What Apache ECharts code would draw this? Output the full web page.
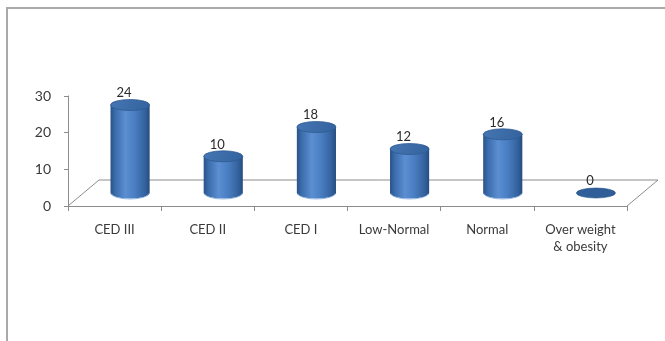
<!DOCTYPE html>
<html>
<head>
<meta charset="utf-8">
<script src="https://cdn.jsdelivr.net/npm/echarts@6/dist/echarts.min.js"></script>
<style>
  html, body { margin: 0; padding: 0; background: #ffffff; }
  #chart { width: 665px; height: 341px; }
</style>
</head>
<body>
<div id="chart"></div>
<script>
// BMI classes and number of subjects in each
const categories = ['CED III', 'CED II', 'CED I', 'Low-Normal', 'Normal', 'Over weight\n& obesity'];
const values = [24, 10, 18, 12, 16, 0];
const valueTicks = [0, 10, 20, 30];

// Pseudo-3D floor depth (pixels) and cylinder proportions
const DEPTH_X = 31;
const DEPTH_Y = -26;
const FONT = 'Lato, "Open Sans", sans-serif';
const AXIS_GREY = '#8c8c8c';

const chart = echarts.init(document.getElementById('chart'), null, { renderer: 'canvas' });

const bodyFill = {
  type: 'linear', x: 0, y: 0, x2: 1, y2: 0,
  colorStops: [
    { offset: 0, color: '#2a5288' },
    { offset: 0.12, color: '#3b6cab' },
    { offset: 0.38, color: '#5b8fd2' },
    { offset: 0.62, color: '#4a7ec2' },
    { offset: 0.88, color: '#34629e' },
    { offset: 1, color: '#264c80' }
  ]
};
const topFill = {
  type: 'linear', x: 0, y: 0, x2: 1, y2: 1,
  colorStops: [
    { offset: 0, color: '#4676b3' },
    { offset: 1, color: '#33629e' }
  ]
};

function ellipsePath(cx, cy, rx, ry) {
  return 'M' + (cx - rx) + ' ' + cy +
    ' A' + rx + ' ' + ry + ' 0 1 0 ' + (cx + rx) + ' ' + cy +
    ' A' + rx + ' ' + ry + ' 0 1 0 ' + (cx - rx) + ' ' + cy + ' Z';
}

function renderFloor(params, api) {
  const cs = params.coordSys;
  const x0 = cs.x, x1 = cs.x + cs.width, y0 = cs.y + cs.height;
  return {
    type: 'polyline',
    shape: {
      points: [
        [x0, y0],
        [x0 + DEPTH_X, y0 + DEPTH_Y],
        [x1 + DEPTH_X, y0 + DEPTH_Y],
        [x1, y0]
      ]
    },
    style: { stroke: AXIS_GREY, lineWidth: 1, fill: null }
  };
}

function renderCylinder(params, api) {
  const idx = api.value(0);
  const v = api.value(1);
  const top = api.coord([idx, v]);
  const base = api.coord([idx, 0]);
  const band = api.size([1, 0])[0];
  const rx = band * 0.21;
  const ry = 5.5;
  const cx = top[0] + DEPTH_X / 2;
  const topY = top[1] + DEPTH_Y / 2;
  const baseY = base[1] + DEPTH_Y / 2;
  const children = [];

  if (baseY - topY > 0.5) {
    children.push({
      type: 'path',
      shape: {
        pathData: 'M' + (cx - rx) + ' ' + topY +
          ' L' + (cx - rx) + ' ' + baseY +
          ' A' + rx + ' ' + ry + ' 0 0 0 ' + (cx + rx) + ' ' + baseY +
          ' L' + (cx + rx) + ' ' + topY + ' Z'
      },
      style: { fill: bodyFill, stroke: null }
    });
    // light rim along the lower edge
    children.push({
      type: 'path',
      shape: {
        pathData: 'M' + (cx - rx + 1) + ' ' + (baseY + 0.5) +
          ' A' + (rx - 1) + ' ' + ry + ' 0 0 0 ' + (cx + rx - 1) + ' ' + (baseY + 0.5)
      },
      style: { fill: null, stroke: '#86acdc', lineWidth: 1, opacity: 0.8 }
    });
    children.push({
      type: 'path',
      shape: { pathData: ellipsePath(cx, topY, rx, ry) },
      style: { fill: topFill, stroke: '#2e5a92', lineWidth: 0.8 }
    });
  } else {
    children.push({
      type: 'path',
      shape: { pathData: ellipsePath(cx, topY, rx, ry - 0.5) },
      style: { fill: '#2f5e99', stroke: '#2a5588', lineWidth: 0.6 }
    });
  }

  children.push({
    type: 'text',
    x: cx - 6,
    y: topY - 12,
    style: {
      text: String(v),
      fill: '#2b2b2b',
      font: '13px ' + FONT,
      align: 'center',
      verticalAlign: 'middle'
    }
  });

  return { type: 'group', children: children };
}

chart.setOption({
  animation: false,
  backgroundColor: '#ffffff',
  graphic: [{
    type: 'rect',
    shape: { x: 7, y: 8, width: 720, height: 400 },
    style: { fill: null, stroke: '#a9a9a9', lineWidth: 2 },
    silent: true
  }],
  grid: { left: 68, top: 96, width: 559, height: 110 },
  xAxis: {
    type: 'category',
    data: categories,
    boundaryGap: true,
    axisLine: { lineStyle: { color: AXIS_GREY, width: 1 } },
    axisTick: { show: true, length: 5, lineStyle: { color: AXIS_GREY } },
    axisLabel: {
      interval: 0,
      margin: 15,
      color: '#3a3a3a',
      fontFamily: FONT,
      fontSize: 13,
      lineHeight: 17,
      align: 'center'
    },
    splitLine: { show: false }
  },
  yAxis: {
    type: 'value',
    min: valueTicks[0],
    max: valueTicks[valueTicks.length - 1],
    interval: valueTicks[1] - valueTicks[0],
    axisLine: { show: true, lineStyle: { color: AXIS_GREY, width: 1 } },
    axisTick: { show: true, length: 4, lineStyle: { color: AXIS_GREY } },
    axisLabel: {
      margin: 17,
      color: '#3a3a3a',
      fontFamily: FONT,
      fontSize: 14
    },
    splitLine: { show: false }
  },
  series: [
    {
      type: 'custom',
      name: 'floor',
      z: 1,
      silent: true,
      data: [[0, 0]],
      encode: { x: 0, y: 1 },
      renderItem: renderFloor
    },
    {
      type: 'custom',
      name: 'subjects',
      z: 3,
      data: values.map((v, i) => [i, v]),
      encode: { x: 0, y: 1 },
      renderItem: renderCylinder
    }
  ]
});
</script>
</body>
</html>
